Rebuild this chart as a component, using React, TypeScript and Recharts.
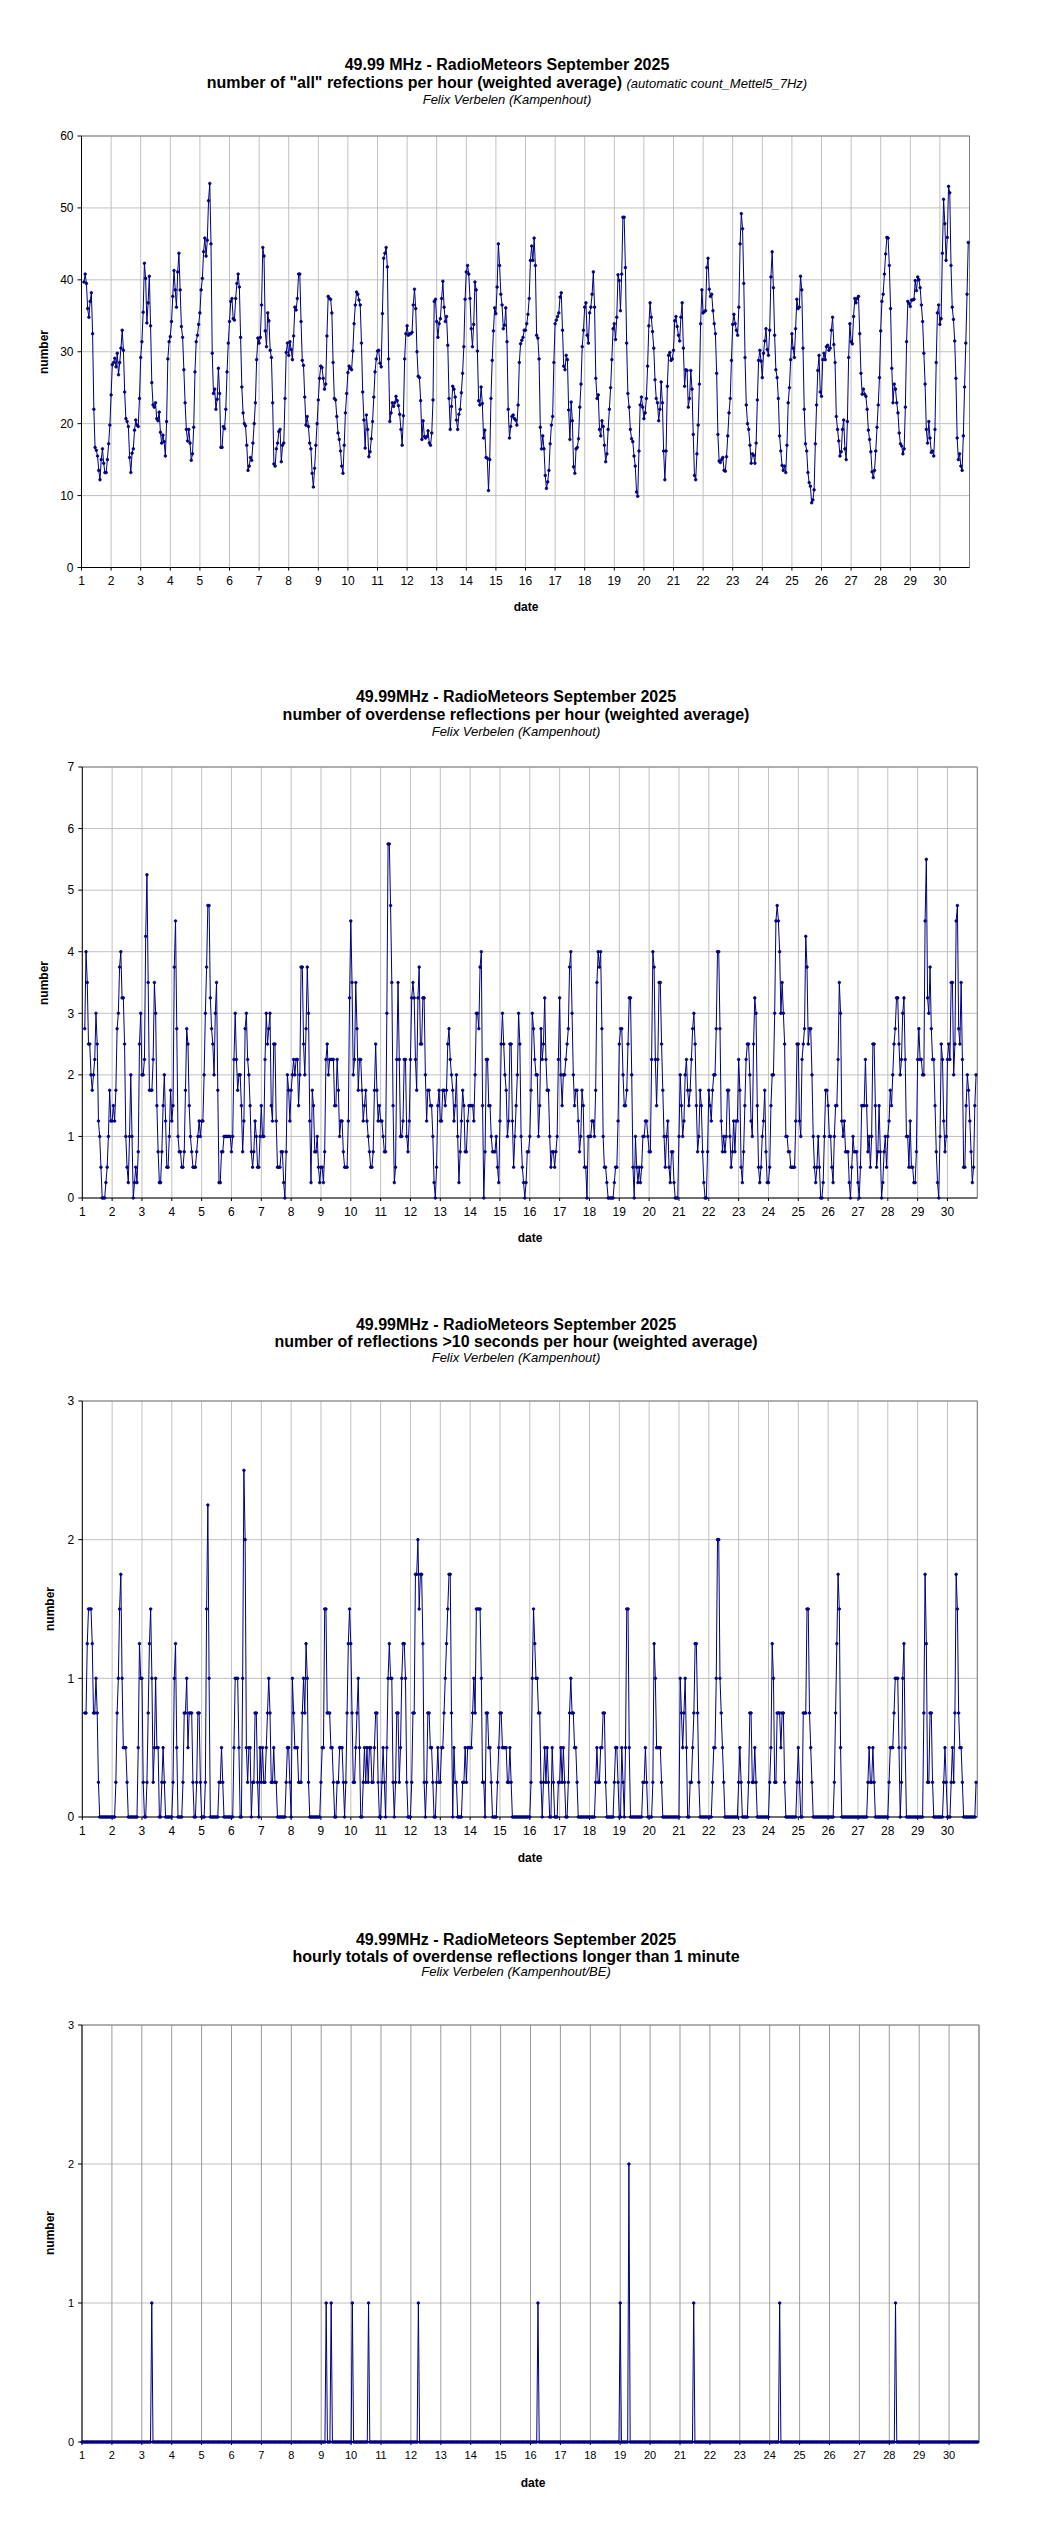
import React from 'react';
import { LineChart, Line, XAxis, YAxis, CartesianGrid, ReferenceLine } from 'recharts';

const NAVY = '#000080';
const FONT = '"Liberation Sans", Arial, Helvetica, sans-serif';

const dayTicks = [1, 2, 3, 4, 5, 6, 7, 8, 9, 10, 11, 12, 13, 14, 15, 16, 17, 18, 19, 20, 21, 22, 23, 24, 25, 26, 27, 28, 29, 30];

// "all" reflections per hour, one row per day (hours 0..23)
const allRefl: (number | null)[][] = [
  [null, null, 39.7, 40.8, 39.5, 36, 34.8, 37, 38.2, 32.5, 22, 16.7, 16.3, 15.5, 13.5, 12.2, 15, 16.5, 14.5, 13.2, 13.2, 15, 17.2, 19.8],
  [24, 28.2, 28.5, 29.1, 27.9, 29.8, 26.8, 28.5, 30.5, 33, 30.2, 24.4, 20.7, 20.3, 19.6, 15.3, 13.2, 15.9, 16.5, 19.1, 20.5, 19.8, 19.6, 23.5],
  [29.2, 31.4, 35.5, 42.3, 40.2, 34, 36.8, 40.5, 33.6, 25.7, 22.6, 22.3, 22.9, 20.7, 20.4, 21.6, 18.8, 17.3, 18.4, 17.5, 15.5, 20.3, 29, 31.4],
  [32.1, 34.2, 37.7, 41.3, 38.6, 36.2, 41.1, 43.7, 38.6, 33.5, 32, 27.5, 22.9, 19.2, 17.6, 19.2, 17.3, 14.9, 15.8, 19.5, 27.2, 31.4, 32.3, 33.8],
  [35.4, 38.6, 40.2, 43.9, 45.8, 43.3, 45.5, 51, 53.4, 45, 29.8, 24.2, 24.8, 22, 23.4, 27.7, 24.2, 16.7, 16.7, 19.6, 19.3, 22, 27.2, 31.2],
  [34.2, 37, 37.4, 34.6, 34.4, 37.4, 39.5, 40.8, 39, 32, 25.1, 21.5, 20, 19.7, 17, 13.5, 14.1, 15.3, 14.9, 17.3, 20, 22.9, 28.9, 31.9],
  [31.2, 32, 36.5, 44.5, 43.3, 32.9, 30.7, 35.4, 34.3, 30.2, 29.2, 22.9, 14.4, 14.1, 16.5, 17.3, 18.9, 19.2, 14.7, 17, 17.3, 23.5, 29.9, 31.2],
  [29.5, 31.4, 30.3, 28.9, 32.2, 36.2, 35.8, 37.4, 40.8, 40.8, 34.2, 28.8, 28.1, 23.7, 19.8, 21, 19.6, 17.3, 16.5, 13.1, 11.2, 13.8, 17, 20],
  [23.3, 26.3, 28, 27.8, 26.3, 24.8, 25.5, 32.2, 37.7, 37.4, 37.3, 35.4, 28.5, 23.5, 23.3, 21, 18.7, 17.8, 16.2, 14.1, 13.1, 17, 21.5, 24.2],
  [27.1, 28, 27.7, 27.5, 30.1, 33.9, 36.5, 38.3, 38, 37.2, 36.5, 31.2, 24.4, 20.5, 16.6, 21.2, 19.2, 15.4, 16.1, 17.9, 20.3, 23.7, 27.2, 29],
  [30.1, 30.2, 28.4, 27.9, 35.3, 43, 43.7, 44.5, 41.8, 29, 20.3, 21.5, 22.9, 22.4, 22.9, 23.8, 23.2, 22.5, 21.3, 19.2, 17, 21.1, 29, 32.5],
  [33.6, 32.3, 32.5, 32.5, 32.7, 36.5, 38.7, 36, 30, 26.6, 26.4, 23.2, 17.8, 20.4, 18.2, 18, 18.2, 19, 17.3, 17, 18.7, 23.3, 37, 37.3],
  [34.2, 32, 33.9, 34.6, 37.4, 39.8, 36.2, 34.2, 34.9, 30.9, 23.5, 19.2, 22.4, 25.2, 24.8, 23.7, 20.5, 19.2, 21.3, 22, 24.3, 27, 30.7, 37.3],
  [41.1, 42, 40.8, 37.4, 33.2, 30.7, 33.8, 39.7, 38.6, 30.1, 23.2, 22.6, 25.1, 22.8, 18, 19.1, 15.3, 15.2, 10.7, 15, 23.5, 28.8, 32.9, 36.1],
  [35.3, 39, 45, 42, 38, 36.5, 33.2, 33.7, 36.1, 31.4, 22, 18, 19.6, 21, 21.2, 20.7, 20.5, 19.8, 22.6, 28.5, 31.1, 31.6, 32, 33],
  [33, 33.9, 35.2, 37.4, 42.7, 44.7, 42.7, 45.8, 42, 32.3, 31.9, 29, 19.5, 16.5, 18.3, 16.5, 12.8, 11, 11.9, 13.5, 17.2, 19.8, 21, 28.5],
  [33.9, 34.4, 34.9, 35.4, 37.6, 38.2, 33, 28, 27.5, 29.5, 28.9, 21.9, 17.8, 23, 20.4, 14, 13.1, 16.5, 16.7, 17.9, 22.3, 25.5, 30.7, 33],
  [36.2, 36.8, 32.3, 31.2, 35.4, 36.2, 38, 41.1, 36.2, 26.3, 23.5, 24, 19.2, 18.3, 20.4, 19.6, 17, 14.7, 15.8, 19.2, 22, 25, 28.9, 33.2],
  [33.9, 31.7, 34.8, 40.7, 39.9, 35.7, 40.8, 48.7, 48.7, 41.7, 31.2, 24.2, 22.3, 19.2, 17.9, 17.5, 15.5, 14.1, 10.5, 9.9, 16.2, 22.6, 23.7, 22.3],
  [20.7, 21.5, 23.5, 28, 33.6, 36.8, 34.8, 32.8, 30.5, 26.1, 23.5, 22.9, 20.4, 22, 25.8, 22.9, 16.2, 12.2, 16.2, 25.2, 29.5, 29.9, 28.8, 29],
  [30.2, 34.3, 34.9, 33.5, 32.3, 31.5, 34.8, 36.8, 30.5, 25.2, 27.5, 27.4, 22.3, 23.5, 27.4, 24.8, 18.5, 12.8, 12.2, 15.8, 19.8, 25.5, 33.9, 38.6],
  [35.4, 35.6, 35.7, 41.7, 43, 38.7, 37.7, 38, 35.7, 33.9, 32.5, 27, 18.5, 14.8, 14.6, 15, 15.3, 13.5, 13.4, 15.4, 18.3, 21.5, 23.5, 28.8],
  [33.8, 35.2, 33.9, 33, 32.3, 36.2, 45, 49.2, 47.1, 39.5, 29.2, 22.6, 20, 19.2, 17, 14.5, 15.8, 15.6, 14.5, 17.3, 23.3, 28.8, 30.2, 28.7],
  [26.4, 29.8, 31.5, 33.2, 30.3, 29.5, 33, 40.4, 43.9, 38.9, 32.3, 27.5, 26.4, 23.5, 18.3, 16.2, 14.2, 13.5, 14.1, 13.2, 17, 22.9, 25, 28.9],
  [32.5, 30.5, 29.2, 33.2, 37.3, 36, 36.2, 40.5, 38.6, 30.5, 22, 17.2, 16.2, 13.2, 11.8, 11.3, 9, 9.4, 10.8, 17.2, 22.6, 27.4, 29.5, 24.4],
  [23.8, 28.9, 29.8, 28.9, 30.7, 30.9, 30.2, 30.5, 33, 34.8, 31, 28.5, 21, 19.2, 17.6, 15.5, 16.1, 19.2, 20.5, 16.5, 15, 20.3, 29.2, 33.9],
  [31.4, 31.1, 34.9, 37.4, 36.8, 37.4, 37.7, 32.5, 27, 24.1, 24.8, 24.1, 23.8, 22, 19.1, 17.8, 16.1, 13.3, 12.5, 13.5, 16.2, 19.5, 22.6, 26.4],
  [32.9, 37, 38, 40.8, 43.6, 45.9, 45.8, 42, 36, 27.7, 22.9, 25.5, 24.8, 22.9, 21.5, 18.7, 17.2, 16.9, 15.8, 16.5, 22.3, 31.4, 37, 36.7],
  [36.3, 37.2, 37.2, 37.3, 39.9, 38.5, 40.4, 40, 38.9, 36.5, 34.2, 29.8, 25.5, 19.2, 17.3, 20.3, 18, 16, 16.2, 15.5, 19.2, 28.5, 35.4, 36.5],
  [33.8, 34.6, 43.7, 51.2, 47.8, 42.7, 45.9, 53, 52.1, 42, 36.2, 34.5, 31.5, 26.3, 18, 15, 15.8, 14.1, 13.5, 18.3, 25.1, 31.2, 38, 45.2],
];

// overdense reflections per hour
const overdense: (number | null)[][] = [
  [null, null, 2.75, 4, 3.5, 2.5, 2.5, 2, 1.75, 2, 2.25, 3, 2.5, 1.25, 1, 0.5, 0, 0, 0, 0.25, 0.5, 1, 1.75, 1.25],
  [1.25, 1.5, 1.25, 1.75, 2.75, 3, 3.75, 4, 3.25, 3.25, 2.5, 1, 0.5, 0.25, 1, 2, 1, 0, 0.25, 0.5, 0.25, 0.75, 2.5, 3],
  [2, 2, 2.25, 4.25, 5.25, 3.5, 1.75, 1.75, 1.75, 2.25, 3.5, 3, 1.5, 0.75, 0.25, 0.25, 0.75, 1.5, 2, 1.25, 0.5, 0.5, 1, 1.75],
  [1.25, 1.5, 3.75, 4.5, 2.75, 1, 0.75, 0.75, 0.5, 0.5, 0.75, 1.75, 2.75, 2.5, 1.5, 1, 0.75, 0.5, 0.5, 0.5, 0.75, 1, 1.25, 1],
  [1.25, 1.25, 2, 3, 3.75, 4.75, 4.75, 3.25, 2.75, 2.5, 2, 3, 3.5, 1.75, 0.25, 0.25, 0.75, 0.75, 1, 1, 1, 1, 1, 1],
  [0.75, 1, 2.25, 3, 2.25, 1.75, 2, 2, 1.5, 0.75, 1.25, 2.75, 3, 2.25, 2, 1.5, 0.75, 0.5, 0.75, 1.25, 1, 0.5, 0.5, 1],
  [1.5, 1, 1, 2.25, 3, 2.5, 2.75, 3, 1.5, 1.25, 2.5, 2.5, 1.25, 0.5, 0.5, 0.5, 0.75, 0.75, 0.25, 0, 0.75, 2, 1.75, 1.25],
  [1.75, 2, 2.25, 2, 2.25, 2.25, 1.5, 2, 3.75, 3.75, 2.5, 2, 2.75, 3.75, 3, 1.25, 0.25, 1.75, 1.5, 0.75, 0.75, 1, 0.5, 0.25],
  [0.5, 0.5, 0.25, 0.75, 2.25, 2.5, 2, 2.25, 2.25, 2.25, 2.25, 1.5, 1.5, 2.25, 1.75, 1, 1.25, 1.25, 0.75, 0.5, 0.5, 0.5, 1.25, 3.25],
  [4.5, 3.5, 2, 2.25, 3.5, 2.75, 1.75, 2.25, 2.25, 1.75, 1.25, 1.5, 1.75, 1.25, 1, 0.75, 0.5, 0.5, 0.75, 1.75, 2.5, 1.75, 1.25, 1.5],
  [1.25, 1.25, 1, 0.75, 0.75, 3, 5.75, 5.75, 4.75, 3.5, 1.5, 0.25, 0.5, 2.25, 3.5, 2.25, 1, 1, 1.25, 2.25, 2.25, 1, 0.75, 1.25],
  [2.25, 3.25, 3.5, 3.25, 2.25, 1.75, 3.25, 3.75, 2.5, 2.5, 3.25, 3.25, 2, 1.25, 1.75, 1.75, 1.5, 1.5, 1, 0.25, 0, 0.5, 1.5, 1.75],
  [1.25, 1.25, 1.75, 1.75, 1.5, 1.75, 2.5, 2.75, 2.25, 2, 1.75, 1.25, 1.5, 2, 1, 0.25, 0.75, 1.25, 1.75, 1.5, 0.75, 0.75, 1.25, 1.5],
  [1.5, 1.5, 1.5, 1.25, 2, 3, 3, 2.75, 3.75, 4, 1.5, 0, 0.75, 2.25, 2.25, 1.5, 1.5, 1, 0.75, 0.75, 0.75, 1, 0.5, 0.25],
  [1.25, 2.5, 3, 2.5, 2, 1.75, 1, 1.25, 2.5, 2.5, 1.25, 0.5, 1, 1.5, 2, 3, 2.5, 1, 0.5, 0.25, 0, 0.25, 0.75, 0.75],
  [1, 1.75, 3, 2.75, 2.25, 2, 2, 1, 1.5, 2.75, 2.25, 2.5, 3.25, 2.25, 1.75, 1.75, 1, 0.5, 0.75, 0.75, 0.5, 0.75, 1, 2.25],
  [3.25, 2, 1.5, 2, 2, 2.25, 2.5, 2.75, 3.75, 4, 3, 2, 1.5, 1.75, 1.75, 1.25, 0.75, 1, 1.75, 1.5, 0.5, 0.5, 0, 1],
  [1, 1, 1.25, 1.25, 1, 1.75, 3.5, 4, 3.75, 4, 2.75, 1, 0.5, 0.5, 0.25, 0, 0, 0, 0, 0, 0.25, 0.5, 0.5, 1.25],
  [2.5, 2.75, 2.75, 2, 1.5, 1.5, 1.75, 2.5, 3.25, 3.25, 2, 0.5, 0, 1, 0.5, 0.25, 0.5, 0.25, 0.5, 1, 1, 1.25, 1.25, 1],
  [0.75, 0.75, 2.25, 4, 3.75, 2.25, 1.5, 2.25, 3.5, 3.5, 2.5, 1.75, 1, 0.5, 1, 1.25, 0.5, 0.25, 0.75, 0.75, 0.25, 0, 0, 0],
  [1, 2, 1.5, 1, 1.25, 2, 2.25, 1.75, 1.5, 1.75, 2.25, 2.75, 3, 2.5, 1.5, 0.75, 1, 1.75, 1.5, 0.75, 0.25, 0, 0, 0.75],
  [1.75, 1.5, 1.25, 1.75, 2, 2, 2.75, 4, 4, 2.75, 1.25, 0.75, 1, 0.75, 1, 1.75, 1.75, 1, 0.5, 0.75, 1.25, 0.75, 1.25, 1.25],
  [2.25, 1.75, 0.5, 0.25, 0.75, 1.5, 2.25, 2.5, 2.5, 2, 1.25, 1, 2.5, 3.25, 3, 1.5, 0.5, 0.25, 0.5, 1, 1.25, 1.75, 0.75, 0.25],
  [0.25, 0.5, 1.5, 2, 2, 3, 4.5, 4.75, 4.5, 4, 3, 3.5, 3, 2.5, 1, 1, 0.75, 0.75, 0.5, 0.5, 0.5, 0.5, 1.25, 2.5],
  [2.5, 1.25, 1, 2.25, 2.5, 2.75, 4.25, 3.75, 2.5, 2.75, 2.75, 2, 1, 0.5, 0.25, 0.5, 1, 0.5, 0, 0, 0.25, 1, 1.75, 1.75],
  [1.5, 1, 1, 0.5, 0.25, 1, 1.5, 1.5, 2.25, 3.5, 3, 1.25, 1, 1.25, 0.75, 0.75, 0.75, 0.25, 0, 0.5, 1, 0.75, 0.75, 0.75],
  [0.25, 0, 0.5, 1.5, 1.5, 1.5, 2.25, 1.5, 0.75, 1, 0.5, 1, 2.5, 2.5, 1.5, 0.5, 0.75, 1.5, 0.75, 0, 0.25, 0.75, 1, 0.5],
  [1, 1.25, 1.75, 1.5, 2, 2.5, 2.75, 3.25, 3.25, 2.5, 2, 2.25, 3, 3.25, 2.25, 1, 1, 0.5, 1.25, 0.5, 0.5, 0.25, 0.25, 0.75],
  [2.25, 2.75, 2.25, 2.25, 2, 2, 4.5, 5.5, 3.25, 3, 3.75, 2.75, 2.25, 2.25, 1.5, 0.75, 0.25, 0, 1, 2.5, 2.25, 1.25, 0.75, 1],
  [2.25, 2.5, 2.25, 3.5, 3.5, 2, 2.5, 4.5, 4.75, 2.75, 2.5, 3.5, 2.25, 0.5, 0.5, 1.5, 2, 1.75, 1.25, 0.75, 0.25, 0.5, 1.5, 2],
];

// reflections longer than 10 s per hour
const longRefl: (number | null)[][] = [
  [null, null, 0.75, 0.75, 1.25, 1.5, 1.5, 1.5, 1.25, 0.75, 0.75, 1, 0.75, 0.25, 0, 0, 0, 0, 0, 0, 0, 0, 0, 0],
  [0, 0, 0, 0.25, 0.75, 1, 1.5, 1.75, 1, 0.5, 0.5, 0.5, 0.25, 0, 0, 0, 0, 0, 0, 0, 0, 0.5, 1.25, 1],
  [1, 0.25, 0, 0, 0.25, 0.75, 1.25, 1.5, 1, 0.25, 0.5, 1, 0.5, 0.5, 0, 0, 0.25, 0.5, 0.25, 0, 0, 0, 0, 0],
  [0, 0.25, 1, 1.25, 0.5, 0, 0, 0, 0, 0.25, 0.75, 0.75, 1, 0.5, 0.75, 0.75, 0.75, 0.25, 0, 0, 0.25, 0.75, 0.75, 0.25],
  [0, 0, 0, 0.25, 1.5, 2.25, 1, 0, 0, 0, 0, 0, 0, 0, 0.25, 0.25, 0.5, 0.25, 0, 0, 0, 0, 0, 0],
  [0, 0, 0.5, 1, 1, 1, 0.5, 0, 0, 1, 2.5, 2, 0.5, 0.25, 0.5, 0.5, 0, 0.25, 0.25, 0.75, 0.75, 0.25, 0, 0.5],
  [0.25, 0.5, 0.25, 0.25, 0.5, 0.75, 1, 0.75, 0.25, 0.25, 0.5, 0.25, 0.25, 0, 0, 0, 0, 0, 0, 0, 0.25, 0.5, 0.5, 0.25],
  [0, 1, 0.75, 0.5, 0.5, 0.5, 0.25, 0.25, 0.25, 0.75, 1, 0.75, 1.25, 1, 0.25, 0, 0, 0, 0, 0, 0, 0, 0, 0],
  [0.25, 0.5, 0.5, 1.5, 1.5, 0.75, 0.75, 0.75, 0.5, 0.5, 0.25, 0, 0, 0.25, 0.25, 0.5, 0.5, 0.5, 0.25, 0, 0.25, 0.75, 1.25, 1.5],
  [1.25, 0.75, 0.25, 0.25, 0.5, 0.75, 1, 0.5, 0, 0, 0.25, 0.5, 0.25, 0.5, 0.25, 0.5, 0.5, 0.25, 0.25, 0.5, 0.75, 0.75, 0.25, 0],
  [0, 0.25, 0.5, 0.25, 0, 0.5, 1, 1.25, 1, 1, 0.25, 0, 0.25, 0.75, 0.75, 0.25, 0.5, 1, 1.25, 1.25, 1, 0.25, 0, 0],
  [0, 0.25, 0.75, 0.75, 1.75, 1.75, 2, 1.5, 1.75, 1.75, 1.25, 0.25, 0, 0.25, 0.75, 0.75, 0.5, 0.5, 0.25, 0, 0, 0.25, 0.5, 0.25],
  [0.25, 0.5, 0.5, 0.75, 1, 1.25, 1.5, 1.75, 1.75, 0.75, 0, 0.5, 0.25, 0.25, 0, 0, 0, 0, 0.25, 0.25, 0.5, 0.25, 0.5, 0.5],
  [0.5, 0.5, 0.75, 1, 0.75, 1.5, 1.5, 1.5, 1.5, 1, 0.25, 0.25, 0, 0.75, 0.75, 0.5, 0.5, 0.25, 0, 0, 0, 0, 0.25, 0.5],
  [0.75, 0.75, 0.5, 0.5, 0.5, 0.5, 0.25, 0.25, 0.5, 0.25, 0, 0, 0, 0, 0, 0, 0, 0, 0, 0, 0, 0, 0, 0],
  [0, 0.25, 1, 1.5, 1.25, 1, 1, 0.75, 0.75, 0.25, 0, 0.25, 0.5, 0.25, 0.5, 0.25, 0, 0, 0.5, 0.25, 0, 0, 0, 0.25],
  [0.25, 0.5, 0.25, 0.5, 0.25, 0, 0, 0.25, 0.75, 1, 0.75, 0.75, 0.5, 0.5, 0.25, 0, 0, 0, 0, 0, 0, 0, 0, 0],
  [0, 0, 0, 0, 0, 0.25, 0.5, 0.25, 0.25, 0.5, 0.5, 0.75, 0.75, 0.25, 0, 0, 0, 0, 0, 0, 0.25, 0.5, 0.5, 0.25],
  [0, 0, 0.5, 0.25, 0, 0.5, 1.5, 1.5, 0.5, 0, 0, 0, 0, 0, 0, 0, 0, 0, 0, 0.25, 0.25, 0.5, 0.25, 0],
  [0, 0, 0, 0.25, 1.25, 1, 0.5, 0.5, 0.5, 0.5, 0.25, 0, 0, 0, 0, 0, 0, 0, 0, 0, 0, 0, 0, 0],
  [0, 1, 0.75, 0.5, 0.75, 1, 0.5, 0, 0, 0.25, 0.25, 0.5, 0.75, 1.25, 1.25, 0.75, 0.25, 0, 0, 0, 0, 0, 0, 0],
  [0, 0, 0, 0.25, 0.5, 0.5, 1, 2, 2, 1, 0.75, 0.5, 0.25, 0, 0, 0, 0, 0, 0, 0, 0, 0, 0, 0],
  [0.25, 0.5, 0.25, 0, 0, 0, 0, 0, 0.25, 0.75, 0.75, 0.25, 0.25, 0.5, 0.25, 0, 0, 0, 0, 0, 0, 0, 0, 0],
  [0, 0.25, 0.5, 1.25, 1, 0.25, 0.25, 0.75, 0.75, 0.75, 0.5, 0.75, 0.75, 0.25, 0, 0, 0, 0, 0, 0, 0, 0, 0, 0.25],
  [0.5, 0.25, 0, 0, 0.75, 0.75, 0.75, 1.5, 1.5, 0.75, 0.5, 0.25, 0, 0, 0, 0, 0, 0, 0, 0, 0, 0, 0, 0],
  [0, 0, 0, 0, 0, 0.25, 0.75, 1.25, 1.75, 1.5, 0.5, 0, 0, 0, 0, 0, 0, 0, 0, 0, 0, 0, 0, 0],
  [0, 0, 0, 0, 0, 0, 0, 0, 0.25, 0.5, 0.25, 0.25, 0.5, 0.25, 0, 0, 0, 0, 0, 0, 0, 0, 0, 0],
  [0, 0.25, 0.5, 0.5, 0.5, 0.75, 1, 1, 1, 0.5, 0, 0.25, 1, 1.25, 0.5, 0, 0, 0, 0, 0, 0, 0, 0, 0],
  [0, 0, 0, 0, 0, 0.75, 1.75, 1.25, 0.25, 0.25, 0.75, 0.75, 0.25, 0, 0, 0, 0, 0, 0, 0, 0, 0.25, 0.5, 0.25],
  [0, 0, 0, 0.25, 0.5, 0.25, 0.75, 1.75, 1.5, 0.75, 0.5, 0.5, 0.25, 0, 0, 0, 0, 0, 0, 0, 0, 0, 0, 0.25],
];

// hourly totals of overdense reflections longer than 1 minute
const minuteTotals: number[][] = [
  [0, 0, 0, 0, 0, 0, 0, 0, 0, 0, 0, 0, 0, 0, 0, 0, 0, 0, 0, 0, 0, 0, 0, 0],
  [0, 0, 0, 0, 0, 0, 0, 0, 0, 0, 0, 0, 0, 0, 0, 0, 0, 0, 0, 0, 0, 0, 0, 0],
  [0, 0, 0, 0, 0, 0, 0, 0, 1, 0, 0, 0, 0, 0, 0, 0, 0, 0, 0, 0, 0, 0, 0, 0],
  [0, 0, 0, 0, 0, 0, 0, 0, 0, 0, 0, 0, 0, 0, 0, 0, 0, 0, 0, 0, 0, 0, 0, 0],
  [0, 0, 0, 0, 0, 0, 0, 0, 0, 0, 0, 0, 0, 0, 0, 0, 0, 0, 0, 0, 0, 0, 0, 0],
  [0, 0, 0, 0, 0, 0, 0, 0, 0, 0, 0, 0, 0, 0, 0, 0, 0, 0, 0, 0, 0, 0, 0, 0],
  [0, 0, 0, 0, 0, 0, 0, 0, 0, 0, 0, 0, 0, 0, 0, 0, 0, 0, 0, 0, 0, 0, 0, 0],
  [0, 0, 0, 0, 0, 0, 0, 0, 0, 0, 0, 0, 0, 0, 0, 0, 0, 0, 0, 0, 0, 0, 0, 0],
  [0, 0, 0, 0, 1, 0, 0, 0, 1, 0, 0, 0, 0, 0, 0, 0, 0, 0, 0, 0, 0, 0, 0, 0],
  [0, 1, 0, 0, 0, 0, 0, 0, 0, 0, 0, 0, 0, 0, 1, 0, 0, 0, 0, 0, 0, 0, 0, 0],
  [0, 0, 0, 0, 0, 0, 0, 0, 0, 0, 0, 0, 0, 0, 0, 0, 0, 0, 0, 0, 0, 0, 0, 0],
  [0, 0, 0, 0, 0, 0, 1, 0, 0, 0, 0, 0, 0, 0, 0, 0, 0, 0, 0, 0, 0, 0, 0, 0],
  [0, 0, 0, 0, 0, 0, 0, 0, 0, 0, 0, 0, 0, 0, 0, 0, 0, 0, 0, 0, 0, 0, 0, 0],
  [0, 0, 0, 0, 0, 0, 0, 0, 0, 0, 0, 0, 0, 0, 0, 0, 0, 0, 0, 0, 0, 0, 0, 0],
  [0, 0, 0, 0, 0, 0, 0, 0, 0, 0, 0, 0, 0, 0, 0, 0, 0, 0, 0, 0, 0, 0, 0, 0],
  [0, 0, 0, 0, 0, 0, 1, 0, 0, 0, 0, 0, 0, 0, 0, 0, 0, 0, 0, 0, 0, 0, 0, 0],
  [0, 0, 0, 0, 0, 0, 0, 0, 0, 0, 0, 0, 0, 0, 0, 0, 0, 0, 0, 0, 0, 0, 0, 0],
  [0, 0, 0, 0, 0, 0, 0, 0, 0, 0, 0, 0, 0, 0, 0, 0, 0, 0, 0, 0, 0, 0, 0, 0],
  [1, 0, 0, 0, 0, 0, 0, 2, 0, 0, 0, 0, 0, 0, 0, 0, 0, 0, 0, 0, 0, 0, 0, 0],
  [0, 0, 0, 0, 0, 0, 0, 0, 0, 0, 0, 0, 0, 0, 0, 0, 0, 0, 0, 0, 0, 0, 0, 0],
  [0, 0, 0, 0, 0, 0, 0, 0, 0, 0, 0, 1, 0, 0, 0, 0, 0, 0, 0, 0, 0, 0, 0, 0],
  [0, 0, 0, 0, 0, 0, 0, 0, 0, 0, 0, 0, 0, 0, 0, 0, 0, 0, 0, 0, 0, 0, 0, 0],
  [0, 0, 0, 0, 0, 0, 0, 0, 0, 0, 0, 0, 0, 0, 0, 0, 0, 0, 0, 0, 0, 0, 0, 0],
  [0, 0, 0, 0, 0, 0, 0, 0, 1, 0, 0, 0, 0, 0, 0, 0, 0, 0, 0, 0, 0, 0, 0, 0],
  [0, 0, 0, 0, 0, 0, 0, 0, 0, 0, 0, 0, 0, 0, 0, 0, 0, 0, 0, 0, 0, 0, 0, 0],
  [0, 0, 0, 0, 0, 0, 0, 0, 0, 0, 0, 0, 0, 0, 0, 0, 0, 0, 0, 0, 0, 0, 0, 0],
  [0, 0, 0, 0, 0, 0, 0, 0, 0, 0, 0, 0, 0, 0, 0, 0, 0, 0, 0, 0, 0, 0, 0, 0],
  [0, 0, 0, 0, 0, 1, 0, 0, 0, 0, 0, 0, 0, 0, 0, 0, 0, 0, 0, 0, 0, 0, 0, 0],
  [0, 0, 0, 0, 0, 0, 0, 0, 0, 0, 0, 0, 0, 0, 0, 0, 0, 0, 0, 0, 0, 0, 0, 0],
  [0, 0, 0, 0, 0, 0, 0, 0, 0, 0, 0, 0, 0, 0, 0, 0, 0, 0, 0, 0, 0, 0, 0, 0],
];

// one point per hour, x in days (day 1 starts at 1.0)
const toSeries = (rows: (number | null)[][]) =>
  rows.flatMap((row, d) => row.map((v, h) => ({ x: 1 + d + h / 24, v })));

interface PanelProps {
  rows: (number | null)[][];
  yTicks: number[];
  left: number;
  right: number;
  top: number;
  bottom: number;
  tickFont?: number;
  vGrid?: string;
}

const Panel: React.FC<PanelProps> = ({ rows, yTicks, left, right, top, bottom, tickFont = 12, vGrid = '#c0c0c0' }) => {
  const yMax = yTicks[yTicks.length - 1];
  const mTop = 10;
  const mBottom = 10;
  const xH = 30;
  const height = bottom - top + mTop + mBottom + xH;
  const tickStyle = { fill: '#000', fontSize: tickFont, fontFamily: FONT };
  return (
    <div style={{ position: 'absolute', left: 0, top: top - mTop, width: 1048, height }}>
      <LineChart
        width={1048}
        height={height}
        data={toSeries(rows)}
        margin={{ top: mTop, right: 1048 - right, bottom: mBottom, left: left - 40 }}
      >
        <CartesianGrid stroke="#c0c0c0" vertical={false} />
        <CartesianGrid stroke={vGrid} horizontal={false} />
        <XAxis
          type="number"
          dataKey="x"
          domain={[1, 31]}
          ticks={dayTicks}
          interval={0}
          height={xH}
          tick={tickStyle}
          tickSize={3}
          tickMargin={6}
          axisLine={{ stroke: '#000' }}
          tickLine={{ stroke: '#000' }}
        />
        <YAxis
          type="number"
          domain={[0, yMax]}
          ticks={yTicks}
          interval={0}
          width={40}
          tick={tickStyle}
          tickSize={4}
          tickMargin={4}
          axisLine={{ stroke: '#000' }}
          tickLine={{ stroke: '#000' }}
        />
        <ReferenceLine y={yMax} stroke="#808080" />
        <ReferenceLine x={31} stroke="#808080" />
        <Line
          type="linear"
          dataKey="v"
          stroke={NAVY}
          strokeWidth={1}
          dot={{ r: 1.3, fill: NAVY, stroke: NAVY, strokeWidth: 0.8 }}
          activeDot={false}
          isAnimationActive={false}
        />
      </LineChart>
    </div>
  );
};

const Text: React.FC<{ cx: number; cy: number; size: number; bold?: boolean; italic?: boolean; children: React.ReactNode }> = ({
  cx, cy, size, bold, italic, children,
}) => (
  <div
    style={{
      position: 'absolute',
      left: cx - 500,
      width: 1000,
      top: cy - size * 0.6,
      lineHeight: `${size * 1.2}px`,
      fontSize: size,
      fontWeight: bold ? 'bold' : 'normal',
      fontStyle: italic ? 'italic' : 'normal',
      textAlign: 'center',
      whiteSpace: 'nowrap',
      color: '#000',
      fontFamily: FONT,
    }}
  >
    {children}
  </div>
);

const YLabel: React.FC<{ cx: number; cy: number }> = ({ cx, cy }) => (
  <div
    style={{
      position: 'absolute',
      left: cx - 40,
      top: cy - 8,
      width: 80,
      lineHeight: '16px',
      textAlign: 'center',
      fontSize: 12,
      fontWeight: 'bold',
      fontFamily: FONT,
      transform: 'rotate(-90deg)',
    }}
  >
    number
  </div>
);

export default function App() {
  return (
    <div style={{ position: 'absolute', left: 0, top: 0, width: 1048, height: 2534, background: '#fff', fontFamily: FONT }}>
      {/* panel 1 */}
      <Text cx={507} cy={65} size={16} bold>49.99 MHz - RadioMeteors September 2025</Text>
      <Text cx={507} cy={83} size={16} bold>
        number of "all" refections per hour (weighted average){' '}
        <span style={{ fontWeight: 'normal', fontStyle: 'italic', fontSize: 13 }}>(automatic count_Mettel5_7Hz)</span>
      </Text>
      <Text cx={507} cy={100} size={13} italic>Felix Verbelen (Kampenhout)</Text>
      <Panel rows={allRefl} yTicks={[0, 10, 20, 30, 40, 50, 60]} left={81.5} right={969.5} top={136} bottom={567.5} />
      <YLabel cx={44} cy={352} />
      <Text cx={526} cy={607} size={12} bold>date</Text>

      {/* panel 2 */}
      <Text cx={516} cy={697} size={16} bold>49.99MHz - RadioMeteors September 2025</Text>
      <Text cx={516} cy={715} size={16} bold>number of overdense reflections per hour (weighted average)</Text>
      <Text cx={516} cy={732} size={13} italic>Felix Verbelen (Kampenhout)</Text>
      <Panel rows={overdense} yTicks={[0, 1, 2, 3, 4, 5, 6, 7]} left={82.3} right={977.3} top={767.3} bottom={1198.3} />
      <YLabel cx={44} cy={983} />
      <Text cx={530} cy={1238} size={12} bold>date</Text>

      {/* panel 3 */}
      <Text cx={516} cy={1325} size={16} bold>49.99MHz - RadioMeteors September 2025</Text>
      <Text cx={516} cy={1342} size={16} bold>number of reflections &gt;10 seconds per hour (weighted average)</Text>
      <Text cx={516} cy={1358} size={13} italic>Felix Verbelen (Kampenhout)</Text>
      <Panel rows={longRefl} yTicks={[0, 1, 2, 3]} left={82.3} right={977.3} top={1401} bottom={1817} />
      <YLabel cx={50} cy={1609} />
      <Text cx={530} cy={1858} size={12} bold>date</Text>

      {/* panel 4 */}
      <Text cx={516} cy={1940} size={16} bold>49.99MHz - RadioMeteors September 2025</Text>
      <Text cx={516} cy={1957} size={16} bold>hourly totals of overdense reflections longer than 1 minute</Text>
      <Text cx={516} cy={1972} size={13} italic>Felix Verbelen (Kampenhout/BE)</Text>
      <Panel rows={minuteTotals} yTicks={[0, 1, 2, 3]} left={82} right={979} top={2025} bottom={2442} tickFont={11} vGrid="#9a9a9a" />
      <YLabel cx={50} cy={2233} />
      <Text cx={533} cy={2483} size={12} bold>date</Text>
    </div>
  );
}
